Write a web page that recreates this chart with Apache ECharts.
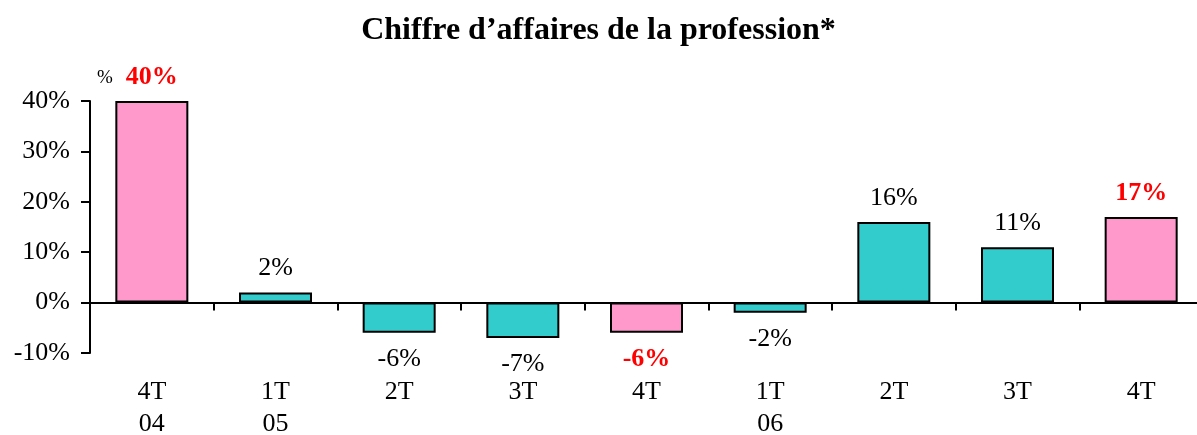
<!DOCTYPE html>
<html><head><meta charset="utf-8">
<script src="https://cdn.jsdelivr.net/npm/echarts@6/dist/echarts.min.js"></script>
<style>html,body{margin:0;padding:0;background:#fff;overflow:hidden}#c{width:1197px;height:435px}</style>
</head><body><div id="c"></div>
<script>
const categories = ['4T\n04','1T\n05','2T','3T','4T','1T\n06','2T','3T','4T'];
const values = [40, 2, -6, -7, -6, -2, 16, 11, 17];
const highlighted = [true, false, false, false, true, false, false, false, true];
const yTicks = {min: -10, max: 40, interval: 10};

const FONT = '"Liberation Serif", "Times New Roman", serif';
const chart = echarts.init(document.getElementById('c'), null, {width: 1197, height: 435, renderer: 'canvas'});
const data = values.map((v, i) => ({
  value: v,
  itemStyle: {color: highlighted[i] ? '#FF99CC' : '#33CCCC'},
  label: {
    position: v >= 0 ? 'top' : 'bottom',
    distance: v >= 0 ? 11 : 13,
    color: highlighted[i] ? '#FF0000' : '#000',
    fontWeight: highlighted[i] ? 'bold' : 'normal'
  }
}));
chart.setOption({
  animation: false,
  title: {text: 'Chiffre d\u2019affaires de la profession*', left: 'center', top: 10,
    textStyle: {fontFamily: FONT, fontSize: 32, fontWeight: 'bold', color: '#000'}},
  grid: {left: 90, right: -6, top: 101, bottom: 82, containLabel: false, outerBoundsMode: 'none'},
  xAxis: [{
    type: 'category', data: categories,
    axisLine: {onZero: true, lineStyle: {color: '#000', width: 2}},
    axisTick: {show: true, length: 8, lineStyle: {color: '#000', width: 2}},
    axisLabel: {show: false}
  }, {
    type: 'category', data: categories, position: 'bottom',
    axisLine: {show: false, onZero: false}, axisTick: {show: false},
    axisLabel: {fontFamily: FONT, fontSize: 26, color: '#000', margin: 23, lineHeight: 32}
  }],
  yAxis: {
    type: 'value', min: yTicks.min, max: yTicks.max, interval: yTicks.interval,
    splitLine: {show: false},
    axisLine: {show: true, lineStyle: {color: '#000', width: 2}},
    axisTick: {show: true, length: 9, lineStyle: {color: '#000', width: 2}},
    axisLabel: {formatter: '{value}%', fontFamily: FONT, fontSize: 26, color: '#000', margin: 20}
  },
  graphic: [{type: 'text', left: 97, top: 69, style: {text: '%', fontFamily: FONT, fontSize: 19, fill: '#000'}}],
  series: [{
    type: 'bar', data: data, barWidth: 73,
    itemStyle: {borderColor: '#000', borderWidth: 2},
    label: {show: true, formatter: p => p.value + '%', fontFamily: FONT, fontSize: 26}
  }]
});
</script></body></html>
